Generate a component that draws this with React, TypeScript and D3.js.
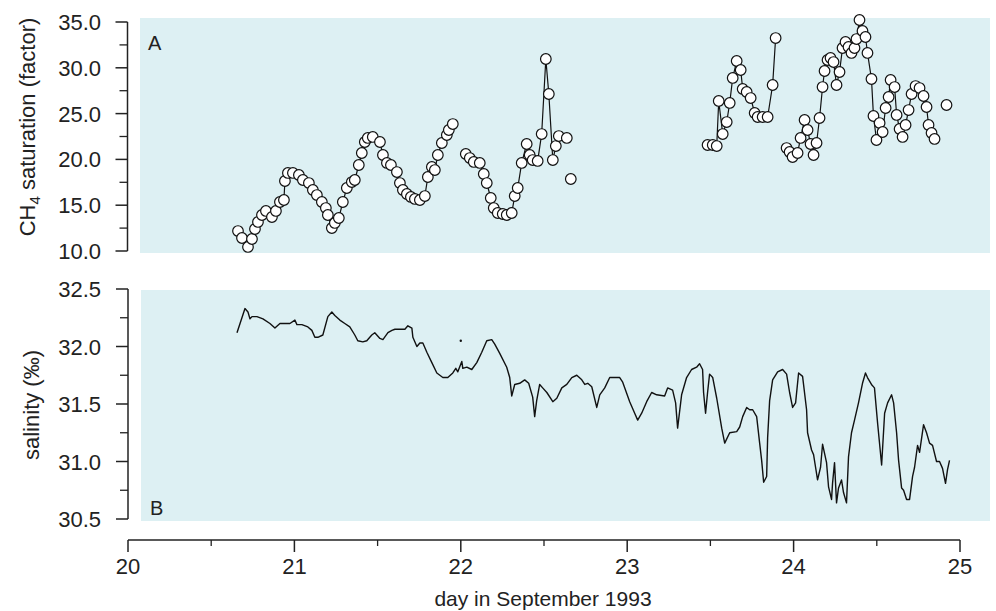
import React from 'react';
import * as d3 from 'd3';

// ---------- data ----------
const xTickValues = [20, 21, 22, 23, 24, 25];
const ch4TickValues = [10, 15, 20, 25, 30, 35];
const salTickValues = [30.5, 31.0, 31.5, 32.0, 32.5];

// CH4 saturation, continuous runs (connected by a line)
const ch4DaysA = [20.661, 20.685, 20.721, 20.745, 20.763, 20.781, 20.805, 20.829, 20.865, 20.889, 20.913, 20.937, 20.943, 20.961, 20.991, 21.027, 21.051, 21.087, 21.111, 21.135, 21.165, 21.189, 21.201, 21.225, 21.243, 21.267, 21.291, 21.315, 21.345, 21.363, 21.387, 21.405, 21.423, 21.441, 21.471, 21.514, 21.532, 21.556, 21.580, 21.616, 21.634, 21.652, 21.676, 21.700, 21.724, 21.754, 21.784, 21.802, 21.826, 21.844, 21.862, 21.886, 21.916, 21.928, 21.952];
const ch4ValsA = [12.18, 11.42, 10.44, 11.31, 12.40, 13.17, 13.93, 14.37, 13.71, 14.37, 15.35, 15.57, 17.64, 18.52, 18.52, 18.30, 17.75, 17.42, 16.66, 16.11, 15.35, 14.69, 13.93, 12.51, 13.06, 13.60, 15.35, 16.88, 17.53, 17.75, 19.39, 20.70, 21.90, 22.34, 22.45, 21.90, 20.48, 19.61, 19.39, 18.62, 17.42, 16.66, 16.22, 15.90, 15.68, 15.57, 16.00, 18.08, 19.17, 18.84, 20.48, 21.79, 22.66, 23.21, 23.86];

const ch4DaysB = [22.030, 22.054, 22.078, 22.114, 22.138, 22.156, 22.180, 22.198, 22.222, 22.252, 22.276, 22.306, 22.324, 22.342, 22.366, 22.396, 22.414, 22.432, 22.462, 22.486, 22.511, 22.529, 22.553, 22.571, 22.589, 22.637];
const ch4ValsB = [20.59, 20.15, 19.72, 19.61, 18.41, 17.42, 15.79, 14.69, 14.15, 14.04, 13.93, 14.15, 16.00, 16.88, 19.61, 21.68, 20.48, 19.93, 19.83, 22.77, 30.96, 27.14, 19.93, 21.46, 22.55, 22.34];

const ch4DaysC = [23.483, 23.514, 23.538, 23.550, 23.574, 23.598, 23.616, 23.634, 23.658, 23.682, 23.694, 23.718, 23.742, 23.766, 23.784, 23.814, 23.844, 23.874, 23.892];
const ch4ValsC = [21.57, 21.57, 21.46, 26.38, 22.77, 24.08, 26.16, 28.89, 30.74, 29.76, 27.69, 27.36, 26.70, 25.07, 24.63, 24.63, 24.63, 28.12, 33.25];

const ch4DaysD = [23.958, 23.976, 23.994, 24.024, 24.042, 24.066, 24.084, 24.102, 24.120, 24.138, 24.156, 24.174, 24.186, 24.204, 24.222, 24.240, 24.258, 24.276, 24.294, 24.312, 24.330, 24.348, 24.366, 24.378, 24.396, 24.414, 24.432, 24.444, 24.468, 24.480, 24.498, 24.517, 24.535, 24.553, 24.571, 24.583, 24.607, 24.619, 24.637, 24.655, 24.673, 24.691, 24.709, 24.733, 24.757, 24.781, 24.799, 24.811, 24.829, 24.847];
const ch4ValsD = [21.24, 20.81, 20.26, 20.70, 22.34, 24.30, 23.21, 21.68, 20.48, 21.79, 24.52, 27.90, 29.65, 30.85, 31.07, 30.63, 28.12, 29.54, 32.16, 32.82, 32.27, 31.62, 32.16, 33.14, 35.22, 34.02, 33.36, 31.62, 28.78, 24.74, 22.12, 23.97, 22.99, 25.61, 26.81, 28.67, 27.90, 24.85, 23.32, 22.45, 23.76, 25.39, 27.14, 28.01, 27.79, 26.92, 25.72, 23.76, 22.88, 22.23];

// CH4 single, unconnected samples
const ch4LoneDays = [22.661, 24.919];
const ch4LoneVals = [17.86, 25.94];

// Salinity record
const salDays = [20.655, 20.703, 20.721, 20.733, 20.745, 20.775, 20.811, 20.853, 20.883, 20.913, 20.943, 20.973, 21.003, 21.015, 21.045, 21.081, 21.105, 21.123, 21.141, 21.171, 21.201, 21.225, 21.243, 21.273, 21.303, 21.333, 21.363, 21.381, 21.411, 21.435, 21.465, 21.483, 21.514, 21.532, 21.562, 21.586, 21.604, 21.634, 21.664, 21.682, 21.706, 21.712, 21.736, 21.754, 21.772, 21.796, 21.826, 21.856, 21.892, 21.922, 21.952, 21.970, 21.982, 22.006, 22.012, 22.036, 22.066, 22.096, 22.126, 22.156, 22.186, 22.204, 22.234, 22.276, 22.294, 22.306, 22.324, 22.354, 22.384, 22.408, 22.432, 22.444, 22.456, 22.474, 22.492, 22.517, 22.553, 22.577, 22.607, 22.637, 22.667, 22.697, 22.727, 22.745, 22.763, 22.787, 22.817, 22.835, 22.865, 22.895, 22.955, 22.973, 23.015, 23.045, 23.063, 23.087, 23.117, 23.147, 23.177, 23.225, 23.243, 23.273, 23.291, 23.303, 23.327, 23.357, 23.387, 23.417, 23.435, 23.453, 23.459, 23.471, 23.483, 23.495, 23.514, 23.538, 23.568, 23.586, 23.616, 23.658, 23.676, 23.694, 23.718, 23.736, 23.754, 23.778, 23.796, 23.808, 23.820, 23.838, 23.844, 23.856, 23.874, 23.904, 23.934, 23.958, 23.976, 23.994, 24.012, 24.030, 24.054, 24.078, 24.084, 24.108, 24.120, 24.132, 24.144, 24.162, 24.174, 24.186, 24.198, 24.210, 24.228, 24.234, 24.246, 24.258, 24.270, 24.288, 24.300, 24.318, 24.330, 24.348, 24.366, 24.390, 24.414, 24.432, 24.444, 24.468, 24.486, 24.505, 24.529, 24.547, 24.565, 24.589, 24.601, 24.619, 24.631, 24.649, 24.661, 24.679, 24.697, 24.715, 24.727, 24.745, 24.757, 24.781, 24.799, 24.817, 24.835, 24.859, 24.877, 24.895, 24.913, 24.925, 24.937];
const salValues = [32.12, 32.33, 32.30, 32.24, 32.26, 32.26, 32.24, 32.20, 32.16, 32.20, 32.20, 32.20, 32.23, 32.19, 32.19, 32.17, 32.14, 32.08, 32.08, 32.10, 32.26, 32.30, 32.27, 32.23, 32.20, 32.17, 32.10, 32.05, 32.04, 32.05, 32.10, 32.12, 32.07, 32.06, 32.12, 32.14, 32.15, 32.15, 32.15, 32.18, 32.16, 32.08, 32.00, 32.03, 32.03, 31.95, 31.86, 31.77, 31.73, 31.73, 31.77, 31.81, 31.78, 31.87, 31.81, 31.82, 31.80, 31.86, 31.95, 32.05, 32.06, 32.02, 31.94, 31.82, 31.73, 31.57, 31.67, 31.68, 31.71, 31.68, 31.56, 31.39, 31.53, 31.67, 31.64, 31.60, 31.52, 31.55, 31.64, 31.67, 31.73, 31.75, 31.71, 31.67, 31.68, 31.65, 31.47, 31.58, 31.64, 31.73, 31.73, 31.69, 31.52, 31.42, 31.36, 31.42, 31.52, 31.60, 31.58, 31.57, 31.64, 31.62, 31.51, 31.29, 31.58, 31.73, 31.80, 31.82, 31.85, 31.80, 31.60, 31.42, 31.60, 31.76, 31.73, 31.55, 31.29, 31.16, 31.25, 31.26, 31.30, 31.39, 31.47, 31.45, 31.45, 31.39, 31.16, 31.01, 30.82, 30.87, 31.21, 31.53, 31.71, 31.78, 31.80, 31.76, 31.60, 31.47, 31.51, 31.77, 31.74, 31.45, 31.25, 31.10, 31.06, 30.95, 30.84, 30.95, 31.15, 31.07, 30.99, 30.78, 30.67, 30.81, 30.99, 30.64, 30.77, 30.84, 30.73, 30.64, 31.04, 31.25, 31.36, 31.51, 31.68, 31.77, 31.73, 31.67, 31.64, 31.33, 30.97, 31.42, 31.51, 31.58, 31.51, 31.25, 31.01, 30.77, 30.75, 30.67, 30.67, 30.87, 30.95, 31.14, 31.08, 31.32, 31.25, 31.16, 31.14, 31.00, 31.00, 30.94, 30.81, 30.93, 31.01];
const salStrayDays = [22.0];
const salStrayValues = [32.05];

// ---------- chart ----------
const W = 996;
const H = 611;
const FONT = '"Liberation Sans", Arial, Helvetica, sans-serif';
const BG = '#ddf0f3';

export default function App() {
  const x = d3.scaleLinear().domain([20, 25]).range([128, 960]);
  const yA = d3.scaleLinear().domain([10, 35]).range([251, 22]);
  const yB = d3.scaleLinear().domain([30.5, 32.5]).range([519, 289]);
  const fmt = d3.format('.1f');

  const runs = [
    [ch4DaysA, ch4ValsA],
    [ch4DaysB, ch4ValsB],
    [ch4DaysC, ch4ValsC],
    [ch4DaysD, ch4ValsD],
  ];
  const lineA = d3.line<[number, number]>().x(d => x(d[0])).y(d => yA(d[1]));
  const lineB = d3.line<[number, number]>().x(d => x(d[0])).y(d => yB(d[1]));

  const allPts: [number, number][] = [];
  runs.forEach(([ds, vs]) => ds.forEach((d, i) => allPts.push([d, vs[i]])));
  ch4LoneDays.forEach((d, i) => allPts.push([d, ch4LoneVals[i]]));

  const salPts: [number, number][] = salDays.map((d, i) => [d, salValues[i]]);

  const axisA = 127.5;
  const axisB = 128;
  const xAxisY = 540;

  const minorA = d3.range(12.5, 35, 5);
  const minorB = d3.range(30.75, 32.5, 0.5);
  const minorX = d3.range(20.5, 25, 1);

  return (
    <svg width={W} height={H} style={{ position: 'absolute', left: 0, top: 0, background: '#fff' }}
      fontFamily={FONT}>
      {/* panel backgrounds */}
      <rect x={140} y={18} width={850} height={235} fill={BG} />
      <rect x={141} y={290} width={849} height={231} fill={BG} />

      {/* panel A axis */}
      <line x1={axisA} x2={axisA} y1={yA(35)} y2={yA(10)} stroke="#222" strokeWidth={1.5} />
      {ch4TickValues.map(t => (
        <g key={'ta' + t}>
          <line x1={axisA - 12} x2={axisA} y1={yA(t)} y2={yA(t)} stroke="#222" strokeWidth={1.5} />
          <text x={101} y={yA(t) + 8} fontSize={22} textAnchor="end" fill="#222">{fmt(t)}</text>
        </g>
      ))}
      {minorA.map(t => (
        <line key={'ma' + t} x1={axisA - 8} x2={axisA} y1={yA(t)} y2={yA(t)} stroke="#222" strokeWidth={1.3} />
      ))}
      <text transform="translate(35,127) rotate(-90)" fontSize={22} textAnchor="middle" fill="#222">
        CH<tspan fontSize={15} dy={5}>4</tspan><tspan dy={-5}> saturation (factor)</tspan>
      </text>
      <text x={148} y={50} fontSize={20} fill="#222">A</text>

      {/* panel A data */}
      {runs.map(([ds, vs], k) => (
        <path key={'run' + k} d={lineA(ds.map((d, i) => [d, vs[i]] as [number, number])) || ''}
          fill="none" stroke="#111" strokeWidth={1.2} />
      ))}
      {allPts.map((p, i) => (
        <circle key={'c' + i} cx={x(p[0])} cy={yA(p[1])} r={5.3} fill="#fff" stroke="#111" strokeWidth={1.2} />
      ))}

      {/* panel B axis */}
      <line x1={axisB} x2={axisB} y1={yB(32.5)} y2={yB(30.5)} stroke="#222" strokeWidth={1.5} />
      {salTickValues.map(t => (
        <g key={'tb' + t}>
          <line x1={axisB - 12} x2={axisB} y1={yB(t)} y2={yB(t)} stroke="#222" strokeWidth={1.5} />
          <text x={101} y={yB(t) + 8} fontSize={22} textAnchor="end" fill="#222">{fmt(t)}</text>
        </g>
      ))}
      {minorB.map(t => (
        <line key={'mb' + t} x1={axisB - 8} x2={axisB} y1={yB(t)} y2={yB(t)} stroke="#222" strokeWidth={1.3} />
      ))}
      <text transform="translate(39,405) rotate(-90)" fontSize={22} textAnchor="middle" fill="#222">
        salinity (‰)
      </text>
      <text x={150} y={515} fontSize={20} fill="#222">B</text>

      {/* panel B data */}
      <path d={lineB(salPts) || ''} fill="none" stroke="#111" strokeWidth={1.4} strokeLinejoin="round" />
      {salStrayDays.map((d, i) => (
        <circle key={'s' + i} cx={x(d)} cy={yB(salStrayValues[i])} r={1.2} fill="#111" />
      ))}

      {/* x axis */}
      <line x1={x(20)} x2={x(25)} y1={xAxisY} y2={xAxisY} stroke="#222" strokeWidth={1.5} />
      {xTickValues.map(t => (
        <g key={'tx' + t}>
          <line x1={x(t)} x2={x(t)} y1={xAxisY} y2={xAxisY + 12} stroke="#222" strokeWidth={1.5} />
          <text x={x(t)} y={574} fontSize={22} textAnchor="middle" fill="#222">{t}</text>
        </g>
      ))}
      {minorX.map(t => (
        <line key={'mx' + t} x1={x(t)} x2={x(t)} y1={xAxisY} y2={xAxisY + 6} stroke="#222" strokeWidth={1.3} />
      ))}
      <text x={543} y={606} fontSize={21} textAnchor="middle" fill="#222">day in September 1993</text>
    </svg>
  );
}
